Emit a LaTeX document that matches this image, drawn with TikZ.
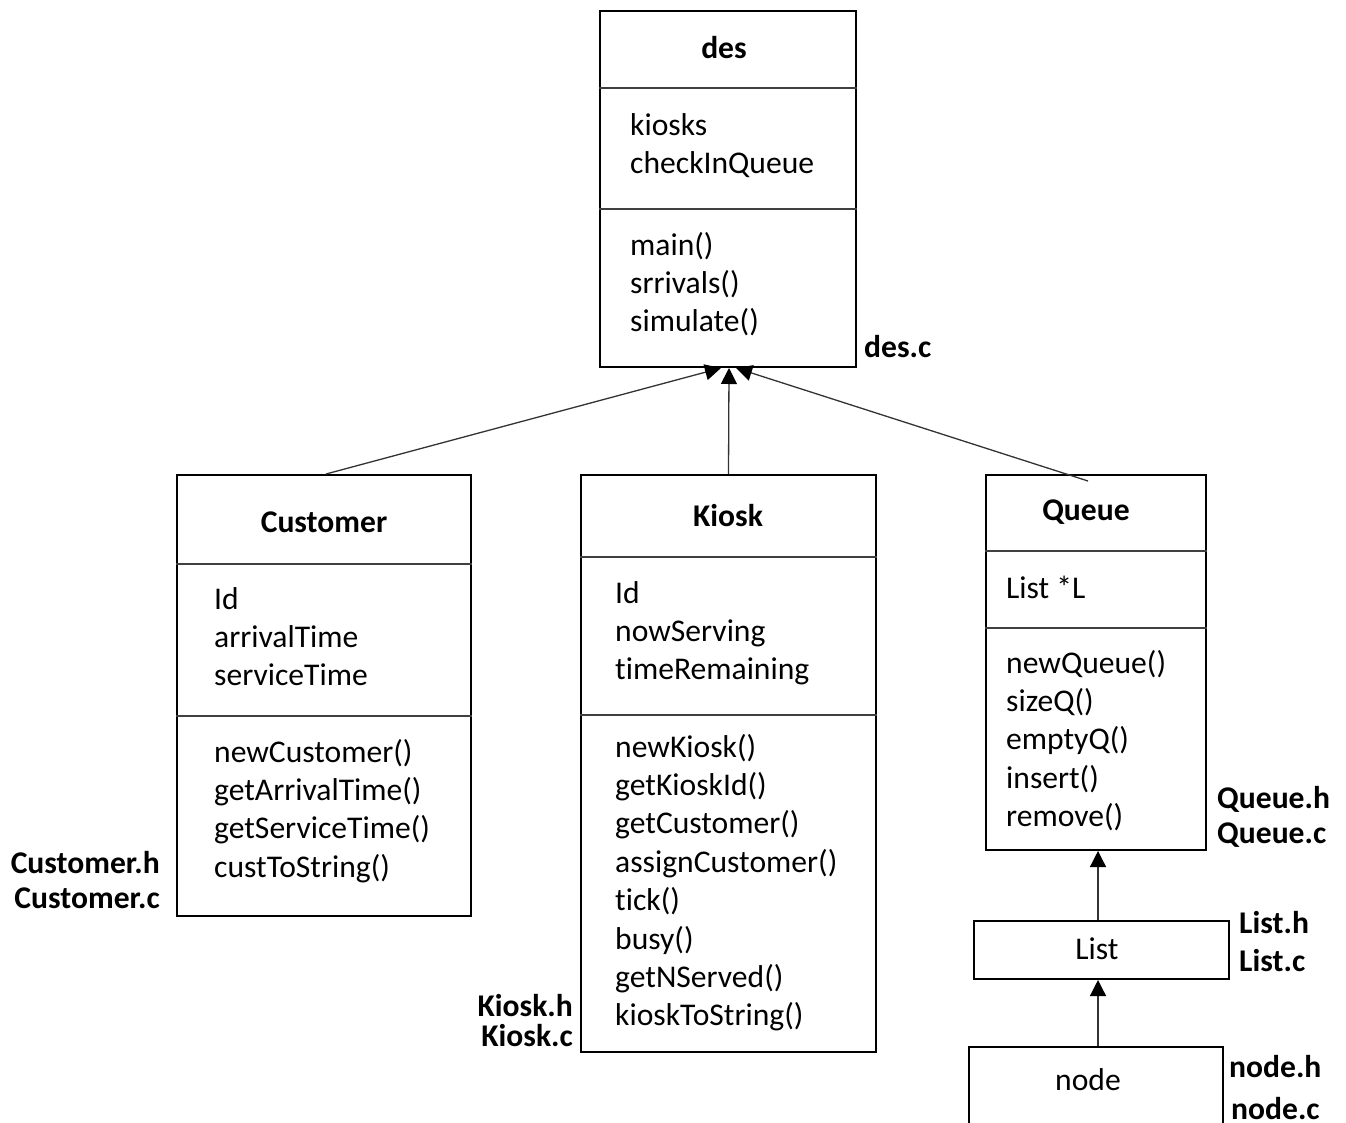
\documentclass[tikz,border=0pt]{standalone}
\usepackage{fontspec}
\setmainfont{Carlito}[Ligatures=NoCommon]
\usetikzlibrary{arrows.meta}
\newcommand\bodyfont{\fontsize{31.6}{38.4}\selectfont}
\begin{document}
\begin{tikzpicture}[x=1pt,y=-1pt,
  every node/.style={inner sep=0pt},
  box/.style={draw=black,line width=2pt},
  divider/.style={draw=black!75,line width=1.4pt},
  link/.style={draw=black!80,line width=1.3pt,-{Triangle[width=16pt,length=16pt,color=black]}},
  title/.style={anchor=base,font=\bodyfont\bfseries},
  members/.style={anchor=base west,align=left,font=\bodyfont},
  fname/.style={anchor=base west,font=\bodyfont\bfseries}]
\useasboundingbox (0,0) rectangle (1346,1122);
\clip (0,0) rectangle (1346,1122);
% class boxes
\node[box,minimum width=256pt,minimum height=356pt] (des) at (728,189) {};
\node[box,minimum width=294pt,minimum height=441pt] (customer) at (324,695.5) {};
\node[box,minimum width=295pt,minimum height=577pt] (kiosk) at (728.5,763.5) {};
\node[box,minimum width=220pt,minimum height=375pt] (queue) at (1096,662.5) {};
\node[box,minimum width=255pt,minimum height=58pt] (list) at (1101.5,950) {};
\node[box,minimum width=254pt,minimum height=140pt] (listnode) at (1096,1117) {};
% compartments
\draw[divider] (des.west |- 0,88) -- (des.east |- 0,88);
\draw[divider] (des.west |- 0,209) -- (des.east |- 0,209);
\draw[divider] (customer.west |- 0,564) -- (customer.east |- 0,564);
\draw[divider] (customer.west |- 0,716) -- (customer.east |- 0,716);
\draw[divider] (kiosk.west |- 0,557) -- (kiosk.east |- 0,557);
\draw[divider] (kiosk.west |- 0,715) -- (kiosk.east |- 0,715);
\draw[divider] (queue.west |- 0,551) -- (queue.east |- 0,551);
\draw[divider] (queue.west |- 0,628) -- (queue.east |- 0,628);
% texts (a multi-line node sits on the baseline of its last line)
\node[title] (desT) at (724,58) {des};
\node[members] (desA) at (630,173.4) {kiosks\\checkInQueue};
\node[members] (desM) at (630,331.8) {main()\\srrivals()\\simulate()};
\node[title] (customerT) at (324,532) {Customer};
\node[members] (customerA) at (214,685.8) {Id\\arrivalTime\\serviceTime};
\node[members] (customerM) at (214,877.2) {newCustomer()\\getArrivalTime()\\getServiceTime()\\custToString()};
\node[title] (kioskT) at (728,526) {Kiosk};
\node[members] (kioskA) at (615,679.8) {Id\\nowServing\\timeRemaining};
\node[members] (kioskM) at (615,1025.8) {newKiosk()\\getKioskId()\\getCustomer()\\assignCustomer()\\tick()\\busy()\\getNServed()\\kioskToString()};
\node[title] (queueT) at (1086,520) {Queue};
\node[members] (queueA) at (1006,598) {List *L};
\node[members] (queueM) at (1006,826.6) {newQueue()\\sizeQ()\\emptyQ()\\insert()\\remove()};
\node[title,font=\bodyfont] (listT) at (1097,959) {List};
\node[title,font=\bodyfont] (listnodeT) at (1088,1090) {node};
% file names
\node[fname] (desC) at (864,357) {des.c};
\node[fname,anchor=base east] (customerH) at (160,873) {Customer.h};
\node[fname,anchor=base east] (customerC) at (160,908) {Customer.c};
\node[fname,anchor=base east] (kioskH) at (573,1016) {Kiosk.h};
\node[fname,anchor=base east] (kioskC) at (573,1046) {Kiosk.c};
\node[fname] (queueH) at (1217,808) {Queue.h};
\node[fname] (queueC) at (1217,843) {Queue.c};
\node[fname] (listH) at (1239,933) {List.h};
\node[fname] (listC) at (1239,971) {List.c};
\node[fname] (listnodeH) at (1229,1077) {node.h};
\node[fname] (listnodeC) at (1231,1119) {node.c};
% inheritance links
\draw[link] ([xshift=2pt]customer.north) -- ([xshift=-7pt]des.south);
\draw[link] (kiosk.north) -- ([xshift=1pt]des.south);
\draw[link] ([shift={(-8,7)}]queue.north) -- ([xshift=8pt]des.south);
\draw[link] ([xshift=-3.5pt]list.north) -- ([xshift=2pt]queue.south);
\draw[link] ([xshift=2pt]listnode.north) -- ([xshift=-3.5pt]list.south);
\end{tikzpicture}
\end{document}
